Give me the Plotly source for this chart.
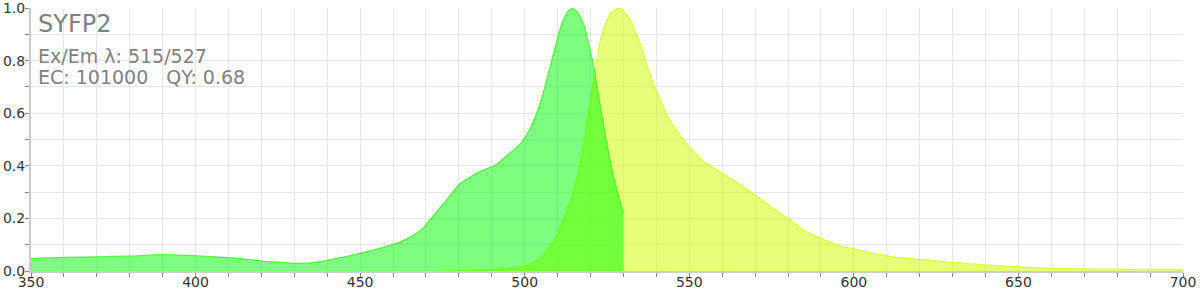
import plotly.graph_objects as go

# Excitation spectrum (nm, normalized)
ex_nm = [350, 360, 370, 380, 390, 400, 410, 416, 422, 428, 432, 437, 443, 450, 457, 462,
         466, 469, 473, 477, 480, 484, 487, 491, 495, 499, 502, 505, 508, 511, 513, 514.5,
         516, 518, 521, 524, 527, 530]
ex_val = [0.048, 0.052, 0.054, 0.057, 0.062, 0.058, 0.051, 0.044, 0.036, 0.031, 0.029, 0.034,
          0.048, 0.067, 0.090, 0.110, 0.135, 0.162, 0.222, 0.282, 0.328, 0.362, 0.382, 0.402,
          0.443, 0.488, 0.550, 0.650, 0.790, 0.930, 0.985, 1.0, 0.985, 0.935, 0.775, 0.550,
          0.358, 0.220]

# Emission spectrum (nm, normalized)
em_nm = [475, 484, 492, 499, 504, 509, 514, 517, 520, 523, 526, 529, 532, 535, 539, 544,
         549, 554, 559, 564, 570, 574, 580, 584, 590, 596, 600, 606, 612, 620, 630, 640,
         650, 660, 670, 680, 690, 700]
em_val = [0.0, 0.002, 0.008, 0.016, 0.040, 0.118, 0.270, 0.420, 0.650, 0.880, 0.980, 1.0,
          0.955, 0.866, 0.714, 0.574, 0.486, 0.420, 0.378, 0.340, 0.289, 0.251, 0.200, 0.162,
          0.124, 0.095, 0.084, 0.067, 0.054, 0.044, 0.033, 0.023, 0.016, 0.010, 0.008, 0.007,
          0.006, 0.006]

x_ticks = [350, 400, 450, 500, 550, 600, 650, 700]
y_ticks = [0.0, 0.2, 0.4, 0.6, 0.8, 1.0]

title_text = "SYFP2"
info_line1 = "Ex/Em λ: 515/527"
info_line2 = "EC: 101000   QY: 0.68"

fig = go.Figure()
fig.add_trace(go.Scatter(
    x=em_nm, y=em_val, mode="lines", fill="tozeroy",
    line=dict(color="rgba(215,255,30,0.85)", width=1.2, shape="spline", smoothing=0.5),
    fillcolor="rgba(210,255,0,0.53)", hoverinfo="skip", showlegend=False))
fig.add_trace(go.Scatter(
    x=ex_nm, y=ex_val, mode="lines", fill="tozeroy",
    line=dict(color="rgba(60,240,40,0.8)", width=1.2, shape="spline", smoothing=0.5),
    fillcolor="rgba(0,255,0,0.5)", hoverinfo="skip", showlegend=False))

font_family = "DejaVu Sans"
fig.update_layout(
    width=1200, height=290,
    margin=dict(l=31, r=17, t=8, b=19),
    paper_bgcolor="white", plot_bgcolor="white",
    font=dict(family=font_family, size=14, color="#333"),
    xaxis=dict(range=[350, 700], tickvals=x_ticks, ticktext=[str(v) for v in x_ticks],
               automargin=False, ticklabeloverflow="allow", ticklabelstandoff=-7,
               showgrid=True, gridcolor="#e6e6e6", gridwidth=1,
               ticks="outside", ticklen=4, tickcolor="#888",
               showline=True, linecolor="#ccc", linewidth=2, zeroline=False,
               minor=dict(dtick=10, showgrid=True, gridcolor="#e6e6e6", ticks="outside",
                          ticklen=4, tickcolor="#888"),
               tickfont=dict(size=14, color="#333")),
    yaxis=dict(range=[0, 1.0], tickvals=y_ticks, ticktext=["0.0", "0.2", "0.4", "0.6", "0.8", "1.0"],
               automargin=False, ticklabeloverflow="allow", ticklabelstandoff=-3,
               showgrid=True, gridcolor="#e6e6e6", gridwidth=1,
               ticks="outside", ticklen=4, tickcolor="#888",
               showline=True, linecolor="#ccc", linewidth=2, zeroline=False,
               minor=dict(dtick=0.1, showgrid=True, gridcolor="#e6e6e6", ticks="outside",
                          ticklen=4, tickcolor="#888"),
               tickfont=dict(size=14, color="#333")),
)

fig.add_annotation(text=title_text, xref="paper", yref="paper", x=0, y=1,
                   xanchor="left", yanchor="top", xshift=5, yshift=0, showarrow=False,
                   font=dict(family=font_family, size=24, color="#808080"))
fig.add_annotation(text=info_line1, xref="paper", yref="paper", x=0, y=1,
                   xanchor="left", yanchor="top", xshift=5, yshift=-35, showarrow=False,
                   font=dict(family=font_family, size=19, color="#808080"))
fig.add_annotation(text=info_line2, xref="paper", yref="paper", x=0, y=1,
                   xanchor="left", yanchor="top", xshift=5, yshift=-56, showarrow=False,
                   font=dict(family=font_family, size=19, color="#808080"))

fig.write_html("out.html")
